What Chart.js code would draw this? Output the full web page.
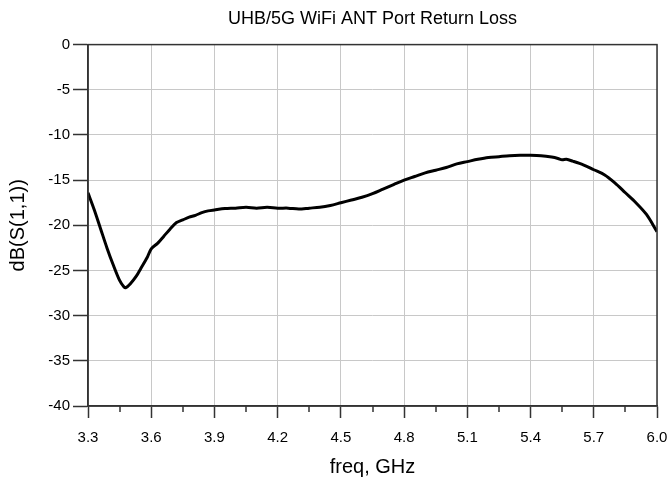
<!DOCTYPE html>
<html>
<head>
<meta charset="utf-8">
<script src="https://cdn.jsdelivr.net/npm/chart.js@4/dist/chart.umd.min.js"></script>
<style>
  html, body { margin: 0; padding: 0; background: #fff; }
  #wrap { width: 672px; height: 486px; }
</style>
</head>
<body>
<div id="wrap"><canvas id="myChart" width="672" height="486"></canvas></div>
<script>
// frequency (GHz) and return loss (dB)
const freqs = [3.30, 3.33, 3.36, 3.39, 3.42, 3.45, 3.47, 3.48, 3.50, 3.53, 3.55, 3.58, 3.60, 3.63, 3.66,
  3.69, 3.72, 3.75, 3.78, 3.81, 3.84, 3.87, 3.90, 3.95, 4.00, 4.05, 4.10, 4.15, 4.20, 4.25, 4.30, 4.35,
  4.40, 4.45, 4.50, 4.55, 4.60, 4.65, 4.70, 4.75, 4.80, 4.85, 4.90, 4.95, 5.00, 5.05, 5.10, 5.15, 5.20,
  5.25, 5.30, 5.35, 5.40, 5.45, 5.50, 5.53, 5.55, 5.57, 5.60, 5.65, 5.70, 5.75, 5.80, 5.85, 5.90, 5.95, 6.00]
const s11 = [-16.4, -18.3, -20.4, -22.5, -24.4, -26.1, -26.8, -26.9, -26.5, -25.6, -24.8, -23.6, -22.6, -22.0, -21.2,
  -20.4, -19.7, -19.4, -19.1, -18.9, -18.6, -18.4, -18.3, -18.15, -18.1, -18.0, -18.1, -18.0, -18.1, -18.1, -18.2, -18.1,
  -18.0, -17.8, -17.5, -17.2, -16.9, -16.5, -16.0, -15.5, -15.0, -14.6, -14.2, -13.9, -13.6, -13.2, -12.95, -12.7, -12.5,
  -12.4, -12.3, -12.25, -12.25, -12.3, -12.45, -12.6, -12.75, -12.7, -12.9, -13.3, -13.85, -14.4, -15.3, -16.4, -17.5, -18.8, -20.7]

const xTicks = [3.3, 3.6, 3.9, 4.2, 4.5, 4.8, 5.1, 5.4, 5.7, 6.0]
const xMinor = [3.45, 3.75, 4.05, 4.35, 4.65, 4.95, 5.25, 5.55, 5.85]
const yTicks = [0, -5, -10, -15, -20, -25, -30, -35, -40]

const FONT = "'Liberation Sans', Arial, sans-serif"

// box round the plot and the short minor ticks under it
const frame_plugin = {
  id: "frame",
  afterDraw(chart) {
    const ctx = chart.ctx
    const a = chart.chartArea
    const xs = chart.scales.x
    ctx.save()
    ctx.strokeStyle = "#333"
    ctx.lineWidth = 1.5
    ctx.strokeRect(a.left, a.top, a.right - a.left, a.bottom - a.top)
    ctx.beginPath()
    xMinor.forEach(v => {
      const px = Math.round(xs.getPixelForValue(v))
      ctx.moveTo(px, a.bottom)
      ctx.lineTo(px, a.bottom + 6)
    })
    ctx.stroke()
    ctx.restore()
  }
}

const ctx = document.getElementById("myChart").getContext("2d")
const myChart = new Chart(ctx, {
  type: "line",
  data: {
    datasets: [{
      label: "dB(S(1,1))",
      data: freqs.map((f, i) => ({ x: f, y: s11[i] })),
      borderColor: "#000",
      borderWidth: 3,
      pointRadius: 0,
      tension: 0.3,
      fill: false
    }]
  },
  options: {
    responsive: false,
    animation: false,
    layout: { padding: { left: 0, right: 15, top: 0, bottom: 0 } },
    plugins: {
      legend: { display: false },
      tooltip: { enabled: false },
      title: {
        display: true,
        fullSize: false,
        text: "UHB/5G WiFi ANT Port Return Loss",
        color: "#000",
        font: { family: FONT, size: 18, weight: "normal" },
        padding: { top: 8, bottom: 15 }
      }
    },
    scales: {
      x: {
        type: "linear",
        min: 3.3,
        max: 6.0,
        afterBuildTicks: s => { s.ticks = xTicks.map(v => ({ value: v })) },
        afterFit: s => { s.height = 80; s.paddingLeft = 0; s.paddingRight = 0 },
        ticks: {
          color: "#000",
          font: { family: FONT, size: 15 },
          padding: 11,
          maxRotation: 0,
          callback: v => v.toFixed(1)
        },
        grid: { color: "#c8c8c8", lineWidth: 1, tickColor: "#333", tickLength: 12, tickWidth: 1.5 },
        border: { display: true, color: "#333", width: 1.5 },
        title: {
          display: true,
          text: "freq, GHz",
          color: "#000",
          font: { family: FONT, size: 20 },
          padding: { top: 0, bottom: 7 }
        }
      },
      y: {
        min: -40,
        max: 0,
        afterBuildTicks: s => { s.ticks = yTicks.map(v => ({ value: v })) },
        afterFit: s => { s.width = 88; s.paddingTop = 0; s.paddingBottom = 0 },
        ticks: {
          color: "#000",
          font: { family: FONT, size: 15 },
          padding: 3
        },
        grid: { color: "#c8c8c8", lineWidth: 1, tickColor: "#333", tickLength: 15, tickWidth: 1.5 },
        border: { display: true, color: "#333", width: 1.5 },
        title: {
          display: true,
          text: "dB(S(1,1))",
          color: "#000",
          font: { family: FONT, size: 20 },
          padding: { top: 6, bottom: 0 }
        }
      }
    }
  },
  plugins: [frame_plugin]
})
</script>
</body>
</html>
